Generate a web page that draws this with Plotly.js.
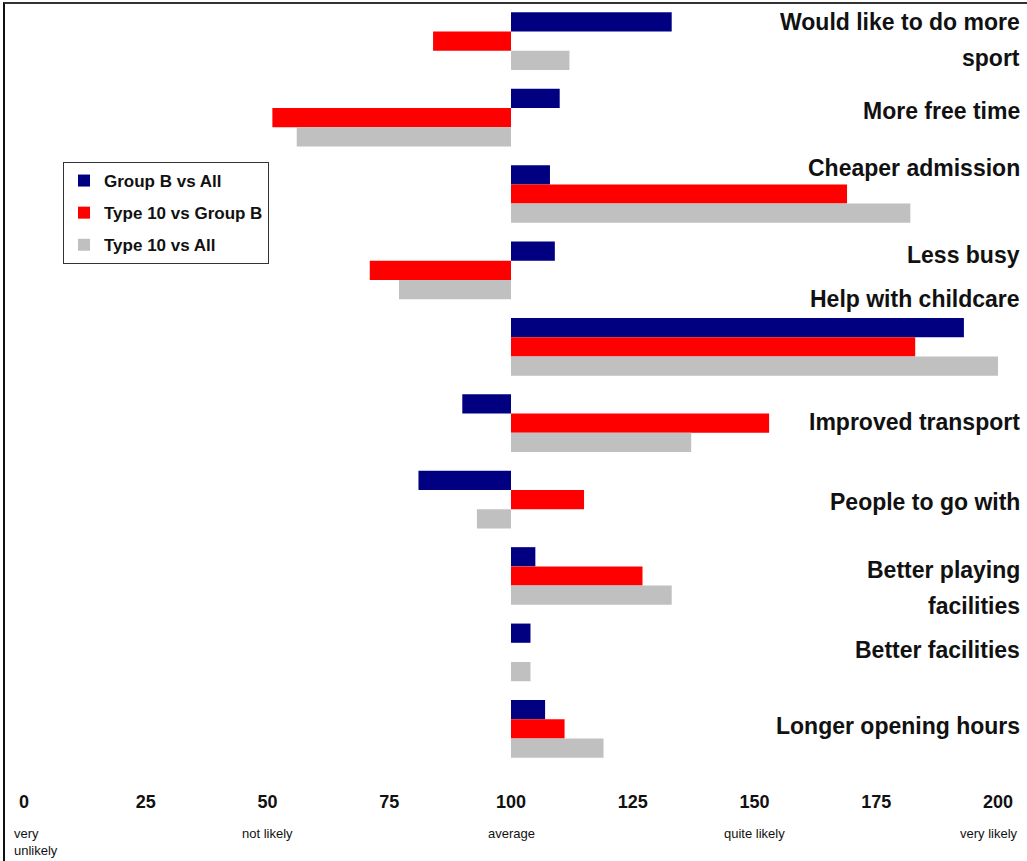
<!DOCTYPE html>
<html>
<head>
<meta charset="utf-8">
<script src="https://cdn.plot.ly/plotly-3.0.1.min.js"></script>
<style>
  html, body { margin: 0; padding: 0; background: #fff; }
  #chart { width: 1027px; height: 861px; position: relative; }
  #frame { position: absolute; left: 3px; top: 2px; width: 1030px; height: 870px;
           border-left: 2px solid #111; border-top: 2px solid #333; pointer-events: none; }
</style>
</head>
<body>
<div id="chart"></div>
<div id="frame"></div>
<script>
// Reasons for taking part in more sport, index values (100 = average)
const categories = [
  "Would like to do more<br>sport",
  "More free time",
  "Cheaper admission",
  "Less busy",
  "Help with childcare",
  "Improved transport",
  "People to go with",
  "Better playing<br>facilities",
  "Better facilities",
  "Longer opening hours"
];
const groupBvsAll     = [133, 110, 108, 109, 193,  90,  81, 105, 104, 107];
const type10vsGroupB  = [ 84,  51, 169,  71, 183, 153, 115, 127, 100, 111];
const type10vsAll     = [112,  56, 182,  77, 201, 137,  93, 133, 104, 119];

const seriesNames  = ["Group B vs All", "Type 10 vs Group B", "Type 10 vs All"];
const seriesColors = ["#000080", "#FF0000", "#C0C0C0"];

const tickValues = [0, 25, 50, 75, 100, 125, 150, 175, 200];
const scaleValues = [0, 50, 100, 150, 200];
const scaleLabels = ["very<br>unlikely", "not likely", "average", "quite likely", "very likely"];

// vertical nudges (px) for the category captions on the right
const labelShift = [1, 7, 26, 15, 48, 1, -2, -12, 2, 3];

const BASE = 100;
const narrow = "'Liberation Sans Narrow', 'Arial Narrow', 'Liberation Sans', Arial, sans-serif";

const seriesValues = [groupBvsAll, type10vsGroupB, type10vsAll];
const traces = seriesValues.map((vals, i) => ({
  type: "bar",
  orientation: "h",
  name: seriesNames[i],
  legendgroup: "g" + i,
  y: categories,
  x: vals.map(v => v - BASE),
  base: BASE,
  marker: { color: seriesColors[i], line: { width: 0 } },
  hovertemplate: "%{y}: %{customdata}<extra>" + seriesNames[i] + "</extra>",
  customdata: vals
}));

const annotations = [];
categories.forEach((c, i) => {
  const lines = c.split("<br>");
  const step = 36;
  lines.forEach((ln, k) => {
    const off = (k - (lines.length - 1) / 2) * step;
    annotations.push({
      xref: "paper", yref: "y", x: 1, y: c,
      xanchor: "right", yanchor: "middle",
      xshift: 24, yshift: labelShift[i] - off,
      text: ln, showarrow: false,
      font: { family: narrow, size: 23, color: "#111", weight: "bold" }
    });
  });
});
scaleValues.forEach((v, i) => {
  const first = i === 0, last = i === scaleValues.length - 1;
  annotations.push({
    xref: "x", yref: "paper", x: v, y: -0.075,
    xanchor: first ? "left" : (last ? "right" : "center"),
    yanchor: "top",
    xshift: first ? -12 : (last ? 22 : 0),
    text: scaleLabels[i], showarrow: false, align: "left",
    font: { family: narrow, size: 13, color: "#111" }
  });
});

const layout = {
  width: 1027, height: 861,
  margin: { l: 24, r: 29, t: 3, b: 94 },
  paper_bgcolor: "#fff", plot_bgcolor: "#fff",
  barmode: "group", bargap: 0.245, bargroupgap: 0,
  showlegend: true,
  legend: {
    x: 39 / 974, y: (767 - 162) / 764, xanchor: "left", yanchor: "top",
    bordercolor: "#333", borderwidth: 1, bgcolor: "#fff",
    font: { family: narrow, size: 17, color: "#111", weight: "bold" },
    tracegroupgap: 7, itemwidth: 30
  },
  xaxis: {
    range: [0, 200], fixedrange: true,
    tickvals: tickValues, ticktext: tickValues.map(String),
    showgrid: false, zeroline: false, showline: false, ticks: "",
    ticklabelstandoff: 22,
    tickfont: { family: narrow, size: 18, color: "#111", weight: "bold" }
  },
  yaxis: {
    autorange: "reversed", showticklabels: false, showgrid: false,
    zeroline: false, showline: false, ticks: "", fixedrange: true
  },
  annotations: annotations
};

Plotly.newPlot("chart", traces, layout, { displayModeBar: false, staticPlot: true });
</script>
</body>
</html>
